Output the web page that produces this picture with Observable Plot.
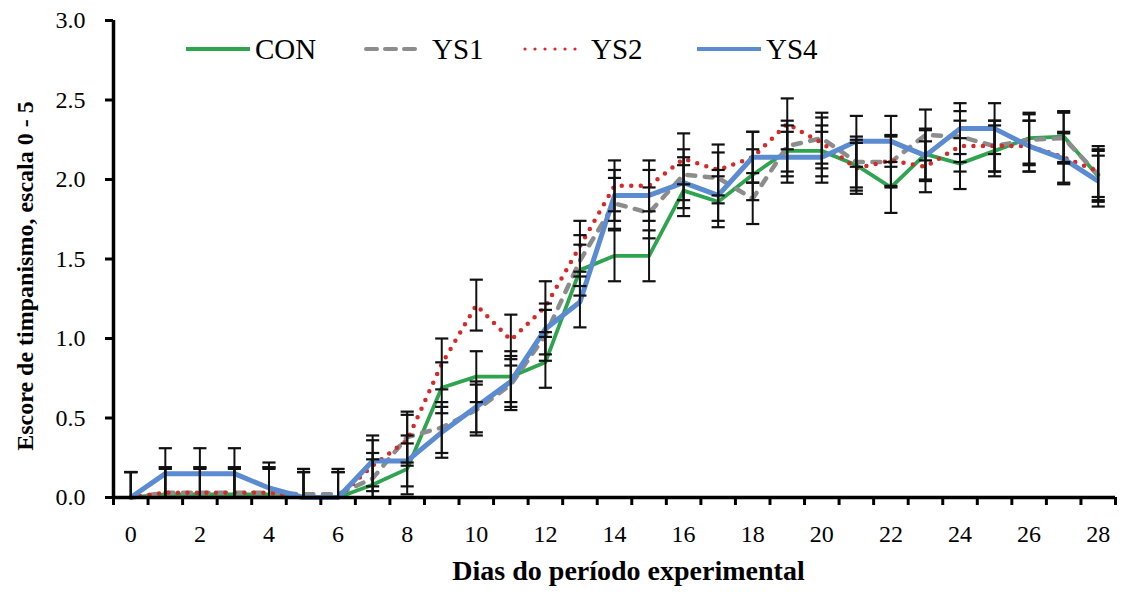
<!DOCTYPE html>
<html><head><meta charset="utf-8">
<script src="https://cdn.jsdelivr.net/npm/d3@7"></script>
<script src="https://cdn.jsdelivr.net/npm/@observablehq/plot@0.6"></script>
</head>
<body style="margin:0;background:#fff;font-family:'Liberation Serif',serif;">
<div id="wrap" style="position:relative;width:1132px;height:598px;font-family:'Liberation Serif',serif;"></div>
<script>
const days = [0,1,2,3,4,5,6,7,8,9,10,11,12,13,14,15,16,17,18,19,20,21,22,23,24,25,26,27,28];
const CON = [0,0.02,0.02,0.02,0.02,0,0,0.08,0.18,0.69,0.76,0.76,0.85,1.43,1.52,1.52,1.93,1.86,2.03,2.18,2.18,2.09,1.95,2.16,2.10,2.18,2.26,2.27,2.02];
const YS1 = [0,0.03,0.03,0.03,0.03,0.02,0.02,0.12,0.38,0.44,0.55,0.71,1.02,1.49,1.85,1.79,2.03,2.01,1.88,2.21,2.26,2.11,2.11,2.28,2.27,2.21,2.25,2.26,2.03];
const YS2 = [0,0.03,0.03,0.03,0.03,0,0,0.20,0.36,0.84,1.21,0.99,1.20,1.58,1.96,1.96,2.13,2.06,2.14,2.35,2.23,2.07,2.12,2.08,2.21,2.21,2.21,2.14,2.05];
const YS4 = [0,0.15,0.15,0.15,0.06,0,0,0.23,0.23,0.41,0.57,0.73,1.06,1.23,1.90,1.90,1.98,1.90,2.14,2.14,2.14,2.24,2.24,2.15,2.32,2.32,2.21,2.13,1.99];
const SEM = [0.16,0.16,0.16,0.16];
const seriesNames = ["CON","YS1","YS2","YS4"];
const seriesValues = [CON,YS1,YS2,YS4];
const colors = ["#2ea44f","#8c8c8c","#d42a2a","#5b8bd0"];
const dashes = [null,"8 9.5","0 9.5",null];
const widths = [3.8,4.5,4.5,5];
const yTicks = [0,0.5,1,1.5,2,2.5,3];
const xLabels = [0,2,4,6,8,10,12,14,16,18,20,22,24,26,28];
const xBoundaries = [-0.5,0.5,1.5,2.5,3.5,4.5,5.5,6.5,7.5,8.5,9.5,10.5,11.5,12.5,13.5,14.5,15.5,16.5,17.5,18.5,19.5,20.5,21.5,22.5,23.5,24.5,25.5,26.5,27.5,28.5];
const xTitle = "Dias do período experimental";
const yTitle = "Escore de timpanismo, escala 0 - 5";

const rows = [];
seriesNames.forEach((s,i)=>days.forEach((d,j)=>rows.push({series:s, day:d, v:seriesValues[i][j], se:SEM[i]})));

const lineMarks = seriesNames.map((s,i)=>Plot.line(rows.filter(r=>r.series===s), {
  x:"day", y:"v", stroke:colors[i], strokeWidth:widths[i],
  strokeDasharray:dashes[i] ?? undefined, strokeLinecap: dashes[i] ? "round" : "butt", strokeLinejoin:"round"
}));
const capHalf = 0.19;
const font = "'Liberation Serif', serif";

const plot = Plot.plot({
  width:1132, height:598, marginLeft:113, marginRight:17, marginTop:20, marginBottom:101,
  style:"font-family:'Liberation Serif',serif;font-size:24px;color:#000;background:#fff;",
  x:{domain:[-0.5,28.5]}, y:{domain:[0,3]},
  marks:[
    ...lineMarks,
    Plot.ruleX(rows, {x:"day", y1:d=>Math.max(0,d.v-d.se), y2:d=>d.v+d.se, stroke:"#111", strokeWidth:2}),
    Plot.link(rows, {x1:d=>d.day-capHalf, x2:d=>d.day+capHalf, y1:d=>d.v+d.se, y2:d=>d.v+d.se, stroke:"#111", strokeWidth:2.2}),
    Plot.link(rows.filter(d=>d.v-d.se>0), {x1:d=>d.day-capHalf, x2:d=>d.day+capHalf, y1:d=>d.v-d.se, y2:d=>d.v-d.se, stroke:"#111", strokeWidth:2.2}),
    Plot.axisY({ticks:yTicks, tickSize:8, tickPadding:20, tickFormat:d=>d.toFixed(1), strokeWidth:3, label:null, fontSize:24, fontFamily:font}),
    Plot.axisX({ticks:xBoundaries, tickSize:8, tickFormat:()=>"", strokeWidth:3, label:null}),
    Plot.axisX({ticks:xLabels, tickSize:0, tickPadding:27, label:null, fontSize:24, fontFamily:font}),
    Plot.ruleY([0], {strokeWidth:3.5, stroke:"#000"}),
    Plot.ruleX([-0.5], {strokeWidth:3.5, stroke:"#000"}),
    Plot.text([xTitle], {frameAnchor:"bottom", dy:82, dx:14, fontWeight:"bold", fontSize:28, fontFamily:font, text:d=>d}),
    Plot.text([yTitle], {frameAnchor:"left", rotate:-90, textAnchor:"middle", dx:-88, dy:17, fontWeight:"bold", fontSize:24, fontFamily:font, text:d=>d})
  ]
});
const wrap = document.getElementById("wrap");
wrap.appendChild(plot);

const swatchLeft = [186,363,522,697];
seriesNames.forEach((s,i)=>{
  const div = document.createElement("div");
  div.setAttribute("style", `position:absolute;top:33px;left:${swatchLeft[i]}px;display:flex;align-items:center;font-family:'Liberation Serif',serif;font-size:29px;line-height:32px;color:#000;`);
  const dash = dashes[i] ? `stroke-dasharray="${i===1?'11 8':'0 10'}" stroke-linecap="round"` : "";
  div.innerHTML = `<svg width="64" height="12" style="margin-right:5px"><line x1="${dashes[i]?3:0}" y1="6" x2="${dashes[i]?60:64}" y2="6" stroke="${colors[i]}" stroke-width="${i===2?3.2:4}" ${dash}/></svg><span>${s}</span>`;
  wrap.appendChild(div);
});
</script></body></html>
